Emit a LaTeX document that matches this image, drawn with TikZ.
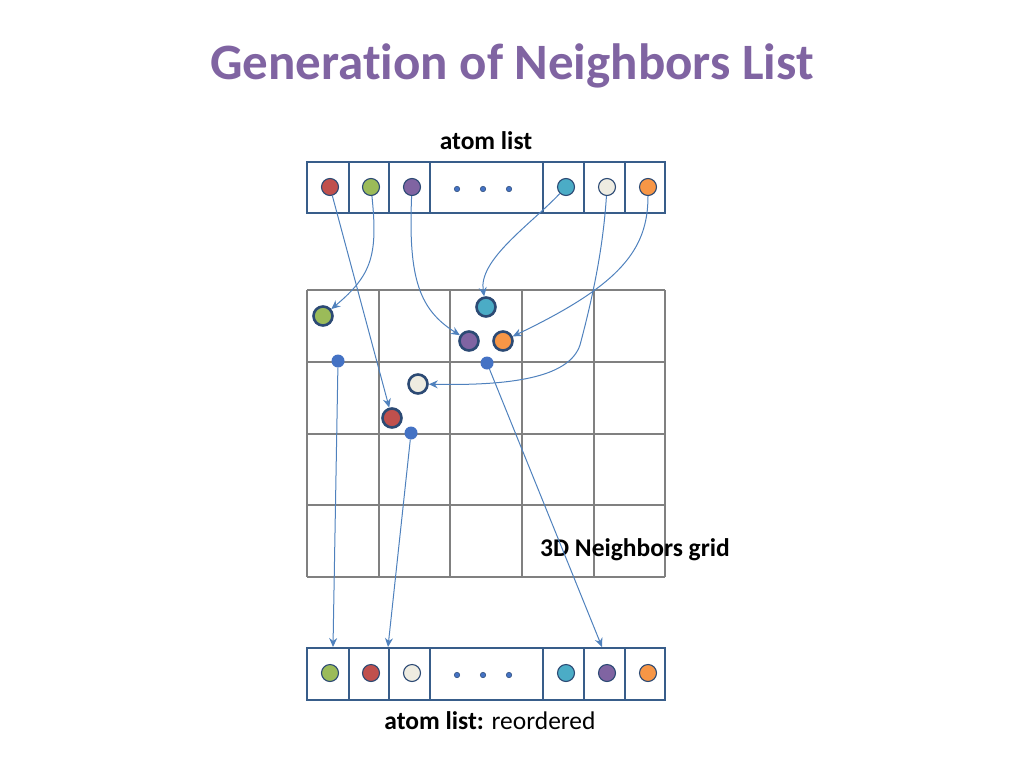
\documentclass[tikz,border=0pt]{standalone}
\usepackage{fontspec}
\setmainfont{Carlito}[Ligatures=NoCommon]
\usetikzlibrary{arrows.meta}
\definecolor{cred}{HTML}{C0504D}
\definecolor{cgreen}{HTML}{9BBB59}
\definecolor{cpurple}{HTML}{8064A2}
\definecolor{ccyan}{HTML}{4BACC6}
\definecolor{cwhite}{HTML}{EEECE1}
\definecolor{corange}{HTML}{F79646}
\definecolor{boxline}{HTML}{385D8A}
\definecolor{atomline}{HTML}{2C4A74}
\definecolor{arrowc}{HTML}{4F81BD}
\definecolor{dotc}{HTML}{4472C4}
\definecolor{gridc}{HTML}{808080}
\definecolor{titlec}{HTML}{8064A2}
\begin{document}
\begin{tikzpicture}[x=1pt,y=-1pt,
  listbox/.style={draw=boxline,line width=1.3pt},
  latom/.style={circle,draw=atomline,line width=1.1pt,minimum size=17pt,inner sep=0pt},
  gatom/.style={circle,draw=atomline,line width=2.6pt,minimum size=19pt,inner sep=0pt},
  ldot/.style={circle,fill=dotc,draw=atomline,line width=0.5pt,minimum size=5.5pt,inner sep=0pt},
  gdot/.style={circle,fill=dotc,minimum size=13pt,inner sep=0pt},
  gridline/.style={draw=gridc,line width=2pt},
  conn/.style={draw=arrowc,line width=1pt,-{Stealth[length=9pt,width=8pt,inset=3pt]}},
  lbl/.style={font=\fontsize{25.5}{29}\selectfont\bfseries,inner sep=0pt}
]
\useasboundingbox (0,0) rectangle (1024,768);

% title
\node[font=\fontsize{51}{58}\selectfont\bfseries,text=titlec,inner sep=0pt] (title) at (512,66) {Generation of Neighbors List};
\node[lbl] (toplbl) at (486,141) {atom list};

% top list
\draw[listbox] (307,162) rectangle (665,213);
\foreach \x in {349,389,430,543,584,625} \draw[listbox] (\x,162) -- (\x,213);
\node[latom,fill=cred]    (t1) at (330,187) {};
\node[latom,fill=cgreen]  (t2) at (371,187) {};
\node[latom,fill=cpurple] (t3) at (412,187) {};
\node[ldot] (td1) at (457,189) {};
\node[ldot] (td2) at (483,189) {};
\node[ldot] (td3) at (509,189) {};
\node[latom,fill=ccyan]   (t4) at (566,187) {};
\node[latom,fill=cwhite]  (t5) at (607,187) {};
\node[latom,fill=corange] (t6) at (648,187) {};

% grid
\foreach \x in {307,379,450,522,594,665} \draw[gridline] (\x,290) -- (\x,577);
\foreach \y in {290,362,434,505,577} \draw[gridline] (307,\y) -- (665,\y);
\node[lbl] (gridlbl) at (635,550) {3D Neighbors grid};

% atoms in grid
\node[gatom,fill=cgreen]  (g2) at (323,316) {};
\node[gatom,fill=ccyan]   (g4) at (486,307) {};
\node[gatom,fill=cpurple] (g3) at (469,341) {};
\node[gatom,fill=corange] (g6) at (503,341) {};
\node[gatom,fill=cwhite]  (g5) at (418,384) {};
\node[gatom,fill=cred]    (g1) at (392,418) {};

% grid points
\node[gdot] (p1) at (338,361) {};
\node[gdot] (p2) at (487,363) {};
\node[gdot] (p3) at (411,433) {};

% bottom list
\draw[listbox] (307,648) rectangle (665,700);
\foreach \x in {349,389,430,543,584,625} \draw[listbox] (\x,648) -- (\x,700);
\node[latom,fill=cgreen]  (b1) at (330,673) {};
\node[latom,fill=cred]    (b2) at (371,673) {};
\node[latom,fill=cwhite]  (b3) at (412,673) {};
\node[ldot] (bd1) at (457,675) {};
\node[ldot] (bd2) at (483,675) {};
\node[ldot] (bd3) at (509,675) {};
\node[latom,fill=ccyan]   (b4) at (566,673) {};
\node[latom,fill=cpurple] (b5) at (607,673) {};
\node[latom,fill=corange] (b6) at (648,673) {};
\node[font=\fontsize{25.5}{29}\selectfont,inner sep=0pt] (botlbl) at (490,721) {\textbf{atom list:} reordered};

% endpoints on the reordered list
\coordinate (e1) at (333,647);
\coordinate (e2) at (388,647);
\coordinate (e3) at (602,647);

% connectors top list -> grid
\draw[conn] (t1) -- (g1);
\draw[conn] (t2) .. controls (378,255) and (372,275) .. (g2);
\draw[conn] (t3) .. controls (408,280) and (420,310) .. (g3);
\draw[conn] (t4) .. controls (530,225) and (478,260) .. (g4);
\draw[conn] (t5) .. controls (603,250) and (592,300) .. (580,345) .. controls (570,375) and (520,386) .. (g5);
\draw[conn] (t6) .. controls (648,250) and (620,285) .. (g6);

% connectors grid -> reordered list
\draw[conn] (p1) -- (e1);
\draw[conn] (p3) -- (e2);
\draw[conn] (p2) -- (e3);
\end{tikzpicture}
\end{document}
